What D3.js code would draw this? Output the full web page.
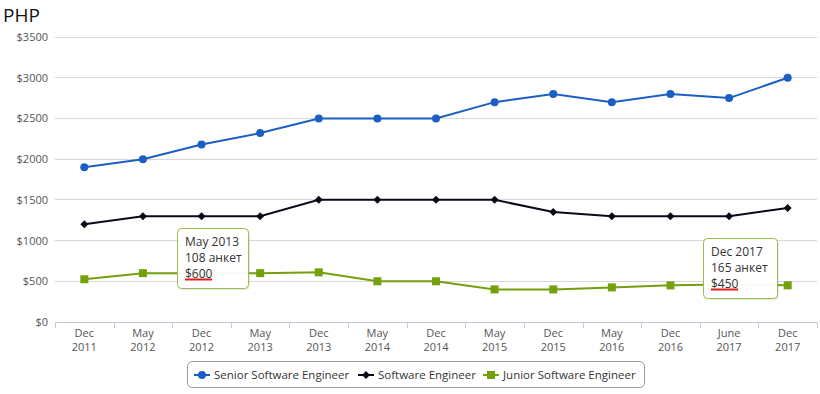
<!DOCTYPE html>
<html><head><meta charset="utf-8">
<script src="https://cdn.jsdelivr.net/npm/d3@7"></script>
<style>body{margin:0;background:#fff;}svg{display:block;font-family:"Open Sans",sans-serif;}</style>
</head><body><svg id="c" width="820" height="394"></svg>
<script>
const categories = [["Dec","2011"],["May","2012"],["Dec","2012"],["May","2013"],["Dec","2013"],["May","2014"],["Dec","2014"],["May","2015"],["Dec","2015"],["May","2016"],["Dec","2016"],["June","2017"],["Dec","2017"]];
const seniorValues = [1900,2000,2180,2320,2500,2500,2500,2700,2800,2700,2800,2750,3000];
const middleValues = [1200,1300,1300,1300,1500,1500,1500,1500,1350,1300,1300,1300,1400];
const juniorValues = [525,600,600,600,610,500,500,400,400,425,450,460,450];
const yTicks = [0,500,1000,1500,2000,2500,3000,3500];
const seriesNames = ["Senior Software Engineer","Software Engineer","Junior Software Engineer"];
const tooltips = [{idx:3, series:2, title:"May 2013", count:"108 анкет"},{idx:12, series:2, title:"Dec 2017", count:"165 анкет"}];

const colors = ["#1b5fc4","#0b0b18","#73a00c"];
const allSeries = [seniorValues, middleValues, juniorValues];
const svg = d3.select("#c");
const L = 55, R = 817, T = 37, B = 322;
const x = d3.scaleBand().domain(d3.range(categories.length)).range([L,R]);
const y = d3.scaleLinear().domain([0,3500]).range([B,T]);

svg.append("text").attr("x",3).attr("y",22).attr("font-size",19).attr("fill","#111").text("PHP");

// grid
svg.append("g").selectAll("line").data(yTicks.slice(1)).join("line")
  .attr("x1",L).attr("x2",R).attr("y1",d=>y(d)).attr("y2",d=>y(d))
  .attr("stroke","#d8d8d8").attr("stroke-width",1).attr("shape-rendering","crispEdges");
svg.append("g").selectAll("text").data(yTicks).join("text")
  .attr("x",48).attr("y",d=>y(d)+4).attr("text-anchor","end").attr("font-size",11).attr("fill","#555")
  .text(d=>"$"+d);

// x axis
svg.append("line").attr("x1",L).attr("x2",R).attr("y1",B+0.5).attr("y2",B+0.5).attr("stroke","#c0cad6");
const bounds = d3.range(categories.length+1).map(i=> i<categories.length ? x(i) : R);
svg.append("g").selectAll("line").data(bounds).join("line")
  .attr("x1",d=>Math.round(d)+0.5).attr("x2",d=>Math.round(d)+0.5).attr("y1",B).attr("y2",B+6).attr("stroke","#c0cad6");
const xl = svg.append("g").selectAll("text").data(categories).join("text")
  .attr("x",(d,i)=>x(i)+x.bandwidth()/2).attr("text-anchor","middle").attr("font-size",11).attr("fill","#555");
xl.append("tspan").attr("x",(d,i)=>x(i)+x.bandwidth()/2).attr("y",337).text(d=>d[0]);
xl.append("tspan").attr("x",(d,i)=>x(i)+x.bandwidth()/2).attr("y",351).text(d=>d[1]);

const cx = i=> x(i)+x.bandwidth()/2;
const line = d3.line().x((d,i)=>cx(i)).y(d=>y(d));
function marker(g, type, px, py, color){
  if(type===0) g.append("circle").attr("cx",px).attr("cy",py).attr("r",4).attr("fill",color);
  else if(type===1) g.append("path").attr("d",`M${px},${py-4}L${px+4},${py}L${px},${py+4}L${px-4},${py}Z`).attr("fill",color);
  else g.append("rect").attr("x",px-4).attr("y",py-4).attr("width",8).attr("height",8).attr("fill",color);
}
allSeries.forEach((vals,s)=>{
  svg.append("path").attr("d",line(vals)).attr("fill","none").attr("stroke",colors[s]).attr("stroke-width",2);
  const g = svg.append("g");
  vals.forEach((v,i)=>marker(g,s,cx(i),y(v),colors[s]));
});

// tooltips
const tipPos = [{x:177,y:228},{x:703,y:238}];
tooltips.forEach((t,k)=>{
  const v = allSeries[t.series][t.idx];
  const g = svg.append("g").attr("transform",`translate(${tipPos[k].x},${tipPos[k].y})`);
  const w = k===0?71:74, h = 60;
  g.append("rect").attr("x",2).attr("y",2).attr("width",w).attr("height",h).attr("rx",4).attr("fill","rgba(0,0,0,0.08)");
  g.append("rect").attr("x",0.5).attr("y",0.5).attr("width",w).attr("height",h).attr("rx",4)
    .attr("fill","rgba(255,255,255,0.96)").attr("stroke","#9bbd4a").attr("stroke-width",1);
  const lines = [t.title, t.count, "$"+v];
  lines.forEach((s,j)=>g.append("text").attr("x",8).attr("y",18+j*16).attr("font-size",12).attr("fill","#333").text(s));
  g.append("line").attr("x1",8).attr("x2",35).attr("y1",51.5).attr("y2",51.5).attr("stroke","#e0201a").attr("stroke-width",2);
});

// legend
const lg = svg.append("g");
lg.append("rect").attr("x",187.5).attr("y",361.5).attr("width",457).attr("height",26).attr("rx",5)
  .attr("fill","#fff").attr("stroke","#999");
const lx = [194, 358, 483];
seriesNames.forEach((n,s)=>{
  const g = lg.append("g");
  g.append("line").attr("x1",lx[s]).attr("x2",lx[s]+16).attr("y1",375).attr("y2",375).attr("stroke",colors[s]).attr("stroke-width",2);
  marker(g,s,lx[s]+8,375,colors[s]);
  g.append("text").attr("x",lx[s]+20).attr("y",379).attr("font-size",11.5).attr("fill","#333").text(n);
});
</script></body></html>
